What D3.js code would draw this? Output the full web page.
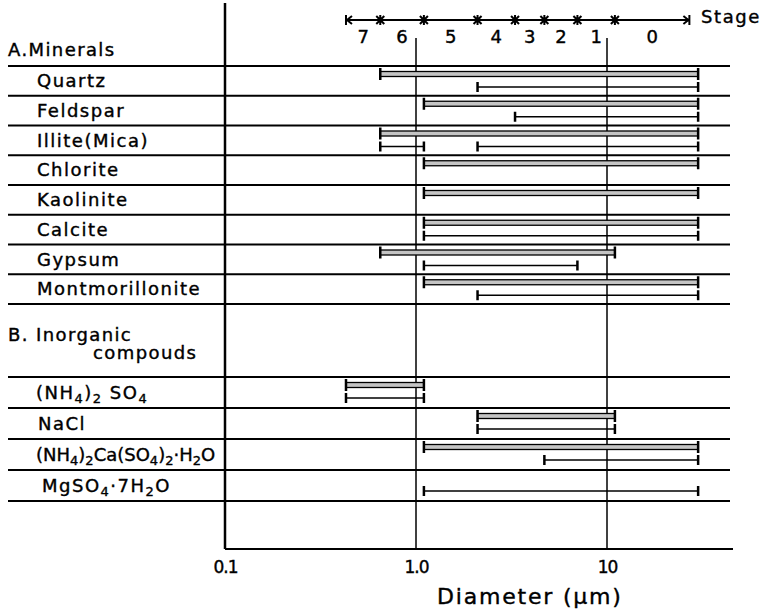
<!DOCTYPE html>
<html>
<head>
<meta charset="utf-8">
<script src="https://cdn.jsdelivr.net/npm/d3@7"></script>
<style>
  html, body { margin: 0; padding: 0; background: #fff; }
  svg { display: block; }
  text { font-family: "DejaVu Sans", sans-serif; fill: #000; stroke: #000; stroke-width: 0.4px; }
</style>
</head>
<body>
<svg id="chart" width="768" height="614"></svg>
<script>
// Size classes of the cascade impactor (boundaries in µm) and stage numbers
const stageBounds = [0.43, 0.65, 1.1, 2.1, 3.3, 4.7, 7.0, 11];
const stageLabels = ["7", "6", "5", "4", "3", "2", "1", "0"];
const stageEnd = 27;

// Diameter axis ticks
const tickValues = [0.1, 1, 10];
const tickLabels = ["0.1", "1.0", "10"];

// A. Minerals
const mineralRows = ["Quartz", "Feldspar", "Illite(Mica)", "Chlorite", "Kaolinite",
                     "Calcite", "Gypsum", "Montmorillonite"];
// [row, from µm, to µm] — double-line ranges
const mineralDouble = [
  [0, 0.65, 30], [1, 1.1, 30], [2, 0.65, 30], [3, 1.1, 30],
  [4, 1.1, 30], [5, 1.1, 30], [6, 0.65, 11], [7, 1.1, 30]
];
// single-line ranges
const mineralSingle = [
  [0, 2.1, 30], [1, 3.3, 30], [2, 0.65, 1.1], [2, 2.1, 30],
  [5, 1.1, 30], [6, 1.1, 7.0], [7, 2.1, 30]
];

// B. Inorganic compounds
const compoundRows = ["(NH4)2 SO4", "NaCl", "(NH4)2Ca(SO4)2·H2O", "MgSO4·7H2O"];
const compoundDouble = [
  [0, 0.43, 1.1], [1, 2.1, 11], [2, 1.1, 30]
];
const compoundSingle = [
  [0, 0.43, 1.1], [1, 2.1, 11], [2, 4.7, 30], [3, 1.1, 30]
];

const svg = d3.select("#chart");

const x = d3.scaleLog().domain([0.1, 10]).range([225, 607]);
const yA = d3.scaleLinear().domain([0, 8]).range([66, 304]);
const yB = d3.scaleLinear().domain([0, 4]).range([377, 501]);
const lineLeft = 8, lineRight = 730, axisBottom = 549;

// Row separators
function rowLines(scale, n) {
  svg.append("g").selectAll("line").data(d3.range(n + 1)).join("line")
    .attr("x1", lineLeft).attr("x2", lineRight)
    .attr("y1", d => scale(d)).attr("y2", d => scale(d))
    .attr("stroke", "#000").attr("stroke-width", 2);
}
rowLines(yA, 8);
rowLines(yB, 4);

// Vertical grid lines at 1.0 and 10 µm
svg.append("g").selectAll("line").data(tickValues.slice(1)).join("line")
  .attr("x1", d => x(d)).attr("x2", d => x(d))
  .attr("y1", 38).attr("y2", axisBottom)
  .attr("stroke", "#000").attr("stroke-width", 1.5);

// Left axis and bottom axis
svg.append("line").attr("x1", x(0.1)).attr("x2", x(0.1)).attr("y1", 3).attr("y2", axisBottom)
  .attr("stroke", "#000").attr("stroke-width", 2.5);
svg.append("line").attr("x1", x(0.1)).attr("x2", 733).attr("y1", axisBottom).attr("y2", axisBottom)
  .attr("stroke", "#000").attr("stroke-width", 2);

const bottomAxis = d3.axisBottom(x).tickValues(tickValues)
  .tickFormat((d, i) => tickLabels[i]).tickSize(0).tickPadding(0);
const ga = svg.append("g").attr("transform", `translate(0,${axisBottom})`).call(bottomAxis);
ga.select(".domain").remove();
ga.selectAll("text").attr("y", 24).attr("dy", 0)
  .style("font-family", '"DejaVu Sans", sans-serif')
  .style("font-size", "17px").style("letter-spacing", "-1px").attr("fill", "#000");

svg.append("text").attr("x", 437).attr("y", 604)
  .style("font-size", "22px").style("letter-spacing", "1.8px")
  .text("Diameter (μm)");

// Stage scale along the top
const sy = 20;
const sg = svg.append("g").attr("stroke", "#000").attr("fill", "none");
sg.append("line").attr("x1", x(stageBounds[0])).attr("x2", x(stageEnd))
  .attr("y1", sy).attr("y2", sy).attr("stroke-width", 2);
stageBounds.slice(1).forEach(b => {
  const cx = x(b);
  sg.append("path").attr("stroke-width", 2)
    .attr("d", `M${cx - 4},${sy - 4}L${cx + 4},${sy + 4}M${cx - 4},${sy + 4}L${cx + 4},${sy - 4}M${cx},${sy - 5}V${sy + 5}`);
});
{
  const lx = x(stageBounds[0]);
  sg.append("path").attr("stroke-width", 2)
    .attr("d", `M${lx},${sy - 5}V${sy + 5}M${lx + 6},${sy - 4}L${lx + 1},${sy}L${lx + 6},${sy + 4}`);
  const rx = x(stageEnd);
  sg.append("path").attr("stroke-width", 2)
    .attr("d", `M${rx},${sy - 5}V${sy + 5}M${rx - 6},${sy - 4}L${rx - 1},${sy}L${rx - 6},${sy + 4}`);
}
const stageEdges = stageBounds.concat([stageEnd]);
svg.append("g").selectAll("text").data(stageLabels).join("text")
  .attr("x", (d, i) => (x(stageEdges[i]) + x(stageEdges[i + 1])) / 2)
  .attr("y", 43).attr("text-anchor", "middle")
  .style("font-size", "18px").text(d => d);
svg.append("text").attr("x", 701).attr("y", 23)
  .style("font-size", "18px").style("letter-spacing", "1.6px").text("Stage");

// Range bars: double-line bars in the upper slot, single lines in the lower slot
function drawBars(scale, dbl, sgl) {
  const g = svg.append("g");
  dbl.forEach(([r, a, b]) => {
    const yc = scale(r) + 8;
    g.append("rect").attr("x", x(a)).attr("y", yc - 2.5)
      .attr("width", x(b) - x(a)).attr("height", 5)
      .attr("fill", "#c4c4c4").attr("stroke", "#000").attr("stroke-width", 1.3);
    [a, b].forEach(v => g.append("line").attr("x1", x(v)).attr("x2", x(v))
      .attr("y1", yc - 6).attr("y2", yc + 6).attr("stroke", "#000").attr("stroke-width", 2.5));
  });
  sgl.forEach(([r, a, b]) => {
    const yc = scale(r) + 21;
    g.append("line").attr("x1", x(a)).attr("x2", x(b)).attr("y1", yc).attr("y2", yc)
      .attr("stroke", "#000").attr("stroke-width", 1.6);
    [a, b].forEach(v => g.append("line").attr("x1", x(v)).attr("x2", x(v))
      .attr("y1", yc - 5).attr("y2", yc + 5).attr("stroke", "#000").attr("stroke-width", 2.5));
  });
}
drawBars(yA, mineralDouble, mineralSingle);
drawBars(yB, compoundDouble, compoundSingle);

// Section headings and row labels
svg.append("text").attr("x", 8).attr("y", 56)
  .style("font-size", "18px").style("letter-spacing", "1.4px").text("A.Minerals");
svg.append("g").selectAll("text").data(mineralRows).join("text")
  .attr("x", 37).attr("y", (d, i) => yA(i) + 21)
  .style("font-size", "18px").style("letter-spacing", "1.5px").text(d => d);

svg.append("text").attr("x", 8).attr("y", 341)
  .style("font-size", "18px").style("letter-spacing", "1.4px").text("B. Inorganic");
svg.append("text").attr("x", 93).attr("y", 359)
  .style("font-size", "18px").style("letter-spacing", "1.4px").text("compouds");

// Chemical formulas: digits after a letter or ")" are subscripts
function formula(sel, str) {
  const parts = [];
  for (let i = 0; i < str.length; i++) {
    const c = str[i];
    const prev = parts.length ? parts[parts.length - 1] : null;
    const isDigit = /[0-9]/.test(c);
    const sub = isDigit && i > 0 && (/[A-Za-z)]/.test(str[i - 1]) || (prev && prev.sub));
    if (prev && prev.sub === sub) prev.t += c; else parts.push({ t: c, sub });
  }
  let shift = 0;
  parts.forEach(p => {
    const target = p.sub ? 4 : 0;
    sel.append("tspan").attr("dy", target - shift)
      .style("font-size", p.sub ? "13px" : null).text(p.t);
    shift = target;
  });
}
const labelX = [36, 38, 36, 42];
const labelSpacing = [1.5, 1.5, 0, 1.5];
compoundRows.forEach((name, i) => {
  const t = svg.append("text").attr("x", labelX[i]).attr("y", yB(i) + 22)
    .style("font-size", "18px").style("letter-spacing", labelSpacing[i] + "px");
  formula(t, name);
});
</script>
</body>
</html>
